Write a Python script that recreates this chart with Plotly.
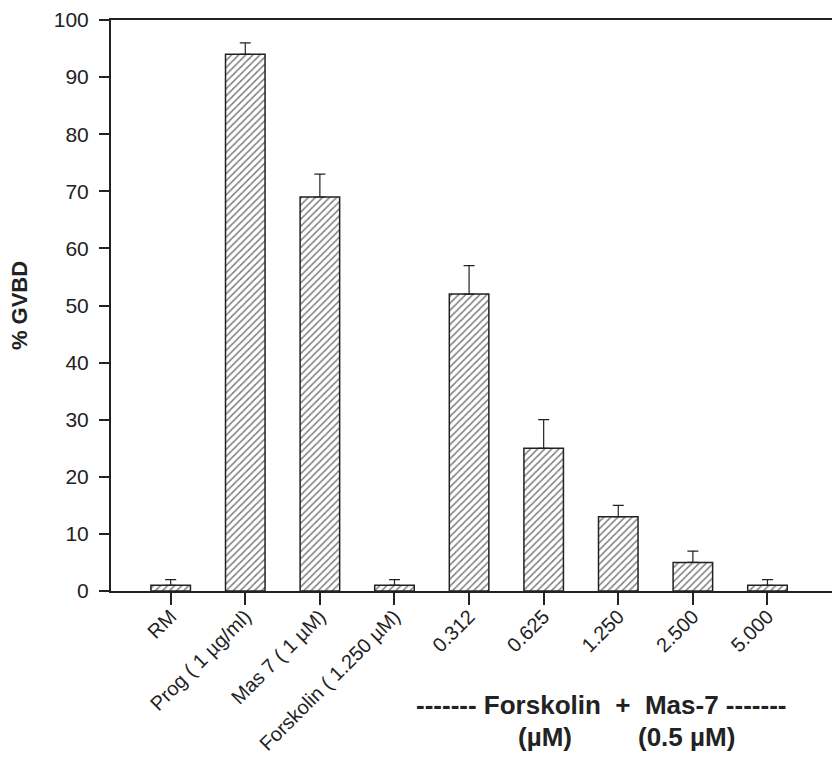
import plotly.graph_objects as go

categories = ["RM", "Prog ( 1 µg/ml)", "Mas 7 ( 1 µM)", "Forskolin ( 1.250 µM)",
              "0.312", "0.625", "1.250", "2.500", "5.000"]
values = [1, 94, 69, 1, 52, 25, 13, 5, 1]
errors = [1, 2, 4, 1, 5, 5, 2, 2, 1]
y_ticks = [0, 10, 20, 30, 40, 50, 60, 70, 80, 90, 100]

FONT = "Liberation Sans, Arial, sans-serif"
INK = "#222222"
xpos = list(range(len(categories)))

fig = go.Figure()
fig.add_trace(go.Bar(
    x=xpos, y=values, width=0.53,
    marker=dict(color="white",
                line=dict(color=INK, width=1.5),
                pattern=dict(shape="/", fgcolor="#000000", bgcolor="white",
                             size=5, solidity=0.3)),
    error_y=dict(type="data", symmetric=False, array=errors,
                 arrayminus=[0]*len(errors),
                 color=INK, thickness=1.2, width=5.5),
))

fig.update_layout(
    width=832, height=761,
    margin=dict(l=111, r=0, t=20, b=170, autoexpand=False),
    plot_bgcolor="white", paper_bgcolor="white",
    showlegend=False,
    font=dict(family=FONT, color=INK, size=21),
    xaxis=dict(range=[-0.8, 8.865], tickmode="array", tickvals=xpos,
               ticktext=categories, tickangle=-45, automargin=False,
               showline=True, linecolor=INK, linewidth=2, mirror=True,
               ticks="outside", ticklen=12, tickwidth=2, tickcolor=INK,
               showgrid=False, zeroline=False, ticklabelstandoff=-8,
               tickfont=dict(size=20, family=FONT, color=INK)),
    yaxis=dict(range=[0, 100], tickmode="array", tickvals=y_ticks,
               showline=True, linecolor=INK, linewidth=2, automargin=False,
               ticks="outside", ticklen=10, tickwidth=2, tickcolor=INK,
               showgrid=False, zeroline=False, ticklabelstandoff=6,
               title=dict(text="<b>% GVBD</b>",
                          font=dict(size=22, family=FONT, color=INK),
                          standoff=20),
               tickfont=dict(size=21, family=FONT, color=INK)),
)

ann_font = dict(size=26, family=FONT, color=INK)
fig.add_annotation(text="<b>------- Forskolin  +  Mas-7 -------</b>",
                   x=(601-111)/721, y=-(705-591)/571, xref="paper", yref="paper",
                   showarrow=False, font=ann_font, xanchor="center", yanchor="middle")
fig.add_annotation(text="<b>(µM)</b>",
                   x=(545-111)/721, y=-(737-591)/571, xref="paper", yref="paper",
                   showarrow=False, font=ann_font, xanchor="center", yanchor="middle")
fig.add_annotation(text="<b>(0.5 µM)</b>",
                   x=(686-111)/721, y=-(737-591)/571, xref="paper", yref="paper",
                   showarrow=False, font=ann_font, xanchor="center", yanchor="middle")

fig.write_html("out.html", config={"displayModeBar": False},
               post_script="document.body.style.margin='0';")
